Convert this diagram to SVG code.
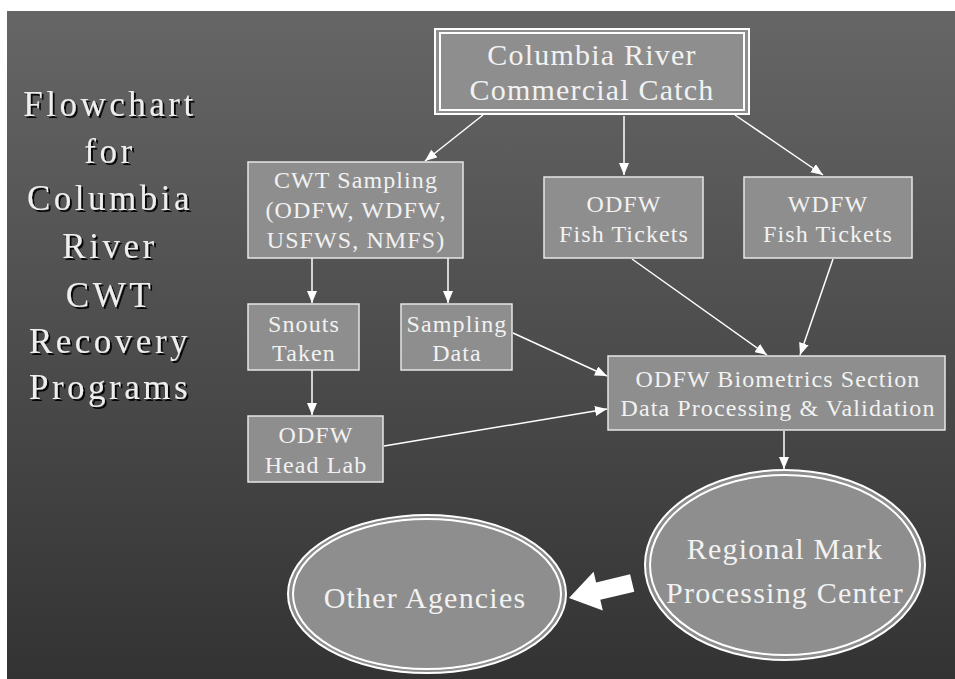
<svg xmlns="http://www.w3.org/2000/svg" width="955" height="679" viewBox="0 0 955 679">
<defs>
<linearGradient id="bg" x1="0" y1="0" x2="0" y2="1">
<stop offset="0" stop-color="#666666"/>
<stop offset="1" stop-color="#333333"/>
</linearGradient>
<marker id="ah" viewBox="0 0 12 10" refX="12" refY="5" markerWidth="12" markerHeight="10" markerUnits="userSpaceOnUse" orient="auto">
<path d="M0,0 L12,5 L0,10 Z" fill="#ffffff"/>
</marker>
<filter id="sh" x="-10%" y="-10%" width="130%" height="130%">
<feDropShadow dx="2" dy="2" stdDeviation="0.6" flood-color="#000000" flood-opacity="0.9"/>
</filter>
</defs>
<style>
.box{fill:#8e8e8e;stroke:#e6e6e6;stroke-width:1.5}
.dbl{fill:none;stroke:#ffffff;stroke-width:2}
.t{font-family:"Liberation Serif","Times New Roman",serif;fill:#f2f2f2;text-anchor:middle}
.t24{font-size:24px;letter-spacing:1.1px}
.t30{font-size:30px;letter-spacing:1.2px}
.title{font-family:"Liberation Serif","Times New Roman",serif;font-size:35px;letter-spacing:3.5px;fill:#eeeeee;text-anchor:middle;filter:url(#sh)}
.c{stroke:#ffffff;stroke-width:1.5;fill:none;marker-end:url(#ah)}
</style>
<rect x="0" y="0" width="955" height="679" fill="#ffffff"/>
<rect x="7" y="11" width="948" height="668" fill="url(#bg)"/>

<g id="title">
<text class="title" x="110" y="116">Flowchart</text>
<text class="title" x="110" y="163">for</text>
<text class="title" x="110" y="210">Columbia</text>
<text class="title" x="110" y="258">River</text>
<text class="title" x="110" y="307">CWT</text>
<text class="title" x="110" y="353">Recovery</text>
<text class="title" x="110" y="399">Programs</text>
</g>

<g id="connectors">
<line class="c" x1="483" y1="115" x2="425" y2="161"/>
<line class="c" x1="624" y1="116" x2="624" y2="175"/>
<line class="c" x1="735" y1="115" x2="823" y2="175"/>
<line class="c" x1="312" y1="258" x2="312" y2="303"/>
<line class="c" x1="448" y1="258" x2="448" y2="303"/>
<line class="c" x1="312" y1="370" x2="312" y2="415"/>
<line class="c" x1="513" y1="333" x2="607" y2="376"/>
<line class="c" x1="384" y1="446" x2="607" y2="409"/>
<line class="c" x1="632" y1="259" x2="767" y2="355"/>
<line class="c" x1="833" y1="259" x2="800" y2="355"/>
<line class="c" x1="784" y1="431" x2="784" y2="469"/>
<path d="M569,598 L593.6,571.7 L596.1,582.4 L630.1,574.3 L634.3,591.7 L600.3,599.8 L602.8,610.5 Z" fill="#ffffff"/>
</g>

<g id="catch">
<rect x="435" y="29" width="314" height="85" fill="#8e8e8e" stroke="#ffffff" stroke-width="2"/>
<rect x="440" y="33" width="304" height="77" class="dbl"/>
<text class="t t30" x="592" y="65">Columbia River</text>
<text class="t t30" x="592" y="100">Commercial Catch</text>
</g>

<g id="cwt">
<rect class="box" x="248" y="162" width="215" height="96"/>
<text class="t t24" x="356" y="188">CWT Sampling</text>
<text class="t t24" x="356" y="218">(ODFW, WDFW,</text>
<text class="t t24" x="356" y="248">USFWS, NMFS)</text>
</g>

<g id="odfw-tickets">
<rect class="box" x="544" y="177" width="159" height="81"/>
<text class="t t24" x="624" y="212">ODFW</text>
<text class="t t24" x="624" y="242">Fish Tickets</text>
</g>

<g id="wdfw-tickets">
<rect class="box" x="744" y="177" width="168" height="81"/>
<text class="t t24" x="828" y="212">WDFW</text>
<text class="t t24" x="828" y="242">Fish Tickets</text>
</g>

<g id="snouts">
<rect class="box" x="248" y="304" width="111" height="66"/>
<text class="t t24" x="304" y="332">Snouts</text>
<text class="t t24" x="304" y="361">Taken</text>
</g>

<g id="sampling-data">
<rect class="box" x="401" y="304" width="111" height="66"/>
<text class="t t24" x="457" y="332">Sampling</text>
<text class="t t24" x="457" y="361">Data</text>
</g>

<g id="head-lab">
<rect class="box" x="248" y="416" width="135" height="66"/>
<text class="t t24" x="316" y="443">ODFW</text>
<text class="t t24" x="316" y="473">Head Lab</text>
</g>

<g id="biometrics">
<rect class="box" x="608" y="356" width="337" height="74"/>
<text class="t t24" x="778" y="387">ODFW Biometrics Section</text>
<text class="t t24" x="778" y="416">Data Processing &amp; Validation</text>
</g>

<g id="rmpc">
<ellipse cx="785" cy="565" rx="140" ry="95" fill="#8e8e8e" stroke="#ffffff" stroke-width="2"/>
<ellipse cx="785" cy="565" rx="135" ry="90" class="dbl"/>
<text class="t t30" x="785" y="559">Regional Mark</text>
<text class="t t30" x="785" y="603">Processing Center</text>
</g>

<g id="other">
<ellipse cx="427" cy="594" rx="139" ry="79" fill="#8e8e8e" stroke="#ffffff" stroke-width="2"/>
<ellipse cx="427" cy="594" rx="134" ry="75" class="dbl"/>
<text class="t t30" x="425" y="608">Other Agencies</text>
</g>
</svg>
